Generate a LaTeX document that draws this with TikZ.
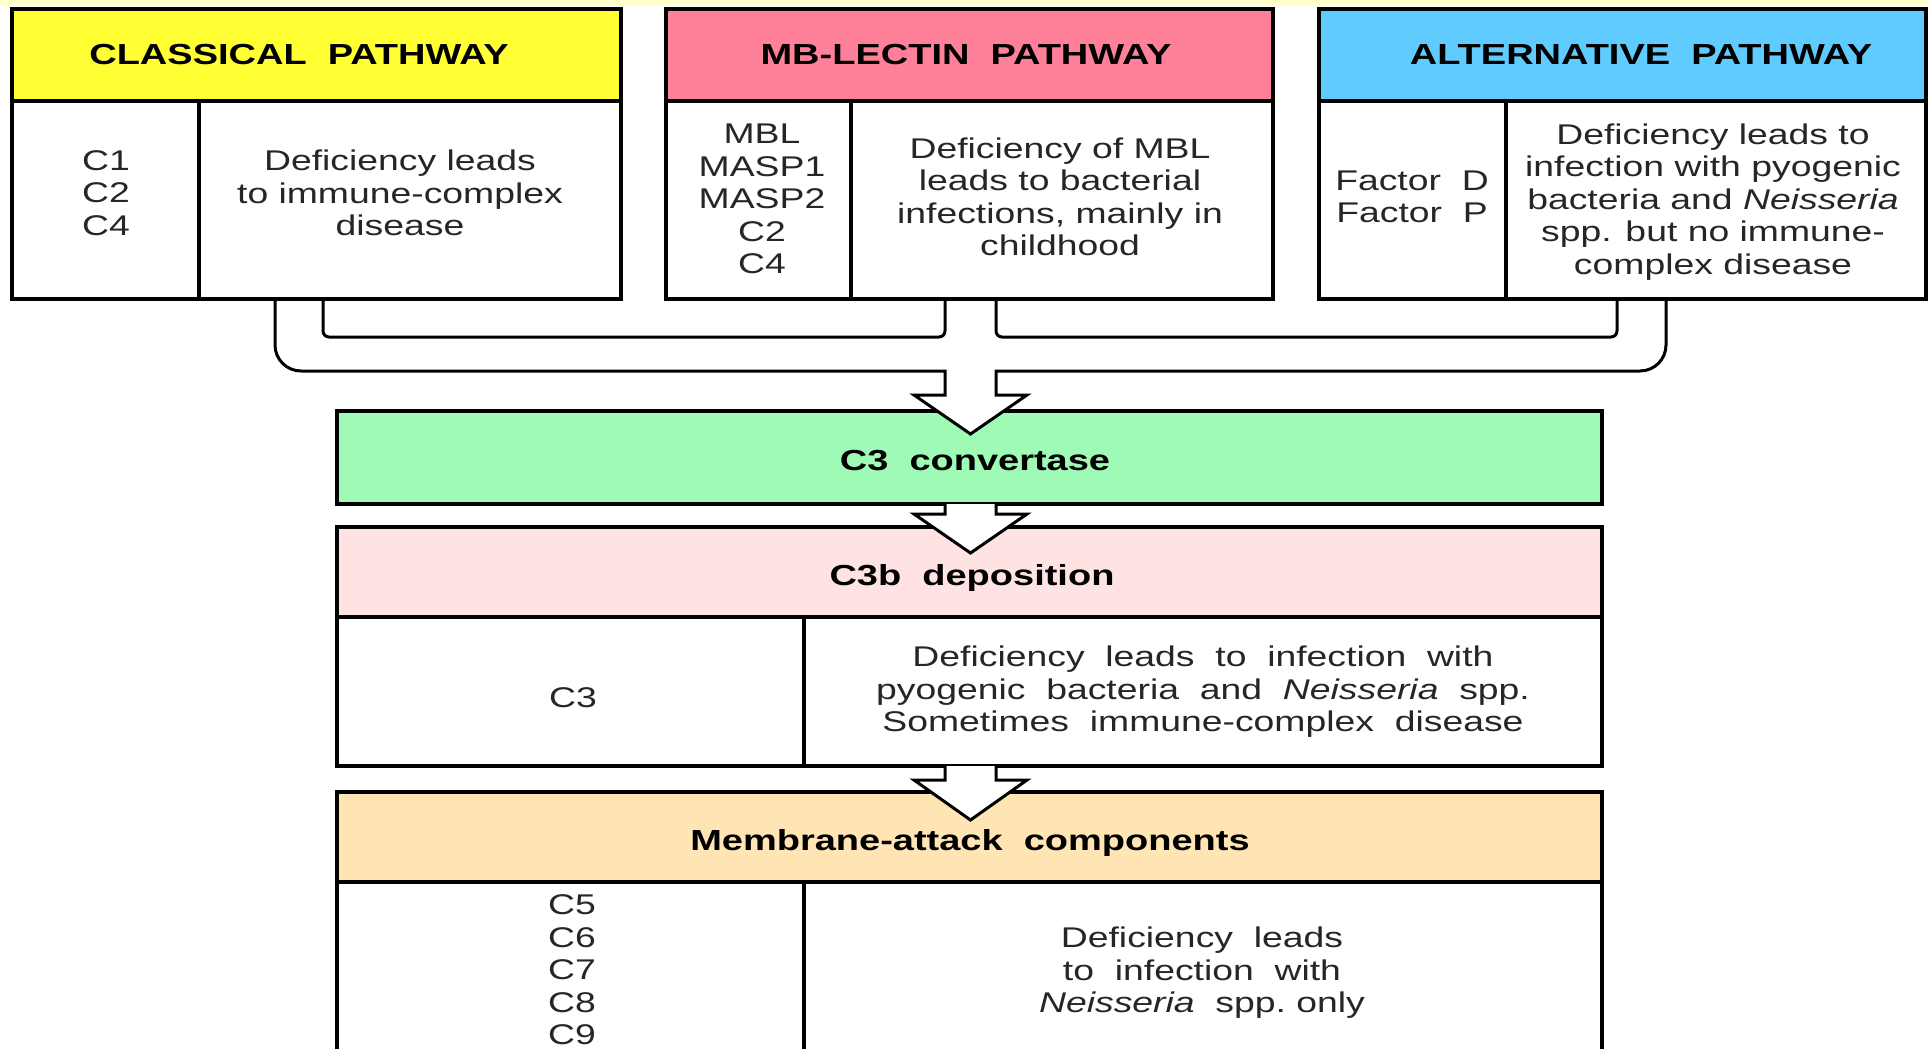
\documentclass[tikz,border=0pt]{standalone}
\usepackage{fontspec}
\setmainfont{Liberation Sans}[FakeStretch=1.31]
\definecolor{cYellow}{HTML}{FFFF33}
\definecolor{cPink}{HTML}{FF8099}
\definecolor{cBlue}{HTML}{5FCBFF}
\definecolor{cGreen}{HTML}{9EFAB4}
\definecolor{cRose}{HTML}{FFE3E3}
\definecolor{cPeach}{HTML}{FFE4B4}
\definecolor{cStrip}{HTML}{FFFFCC}
\definecolor{ink}{HTML}{262626}
\begin{document}
\begin{tikzpicture}[x=1pt,y=-1pt,
  boxline/.style={draw=black,line width=3.5pt},
  wall/.style={draw=black,line width=3pt,line join=miter},
  body/.style={font=\fontsize{28.5}{32.5}\selectfont,text=ink,align=center,inner sep=0pt},
  head/.style={font=\fontsize{29}{33}\selectfont\bfseries,text=black,inner sep=0pt}]
\clip (0,0) rectangle (1928,1049);
\fill[white] (0,0) rectangle (1928,1049);
\fill[cStrip] (0,0) rectangle (1928,6);

% ---- three pathway boxes ----
\fill[cYellow] (12,9) rectangle (621,101);
\draw[boxline] (12,9) rectangle (621,299);
\draw[boxline] (12,101) -- (621,101);
\draw[boxline] (199,101) -- (199,299);

\fill[cPink] (666,9) rectangle (1273,101);
\draw[boxline] (666,9) rectangle (1273,299);
\draw[boxline] (666,101) -- (1273,101);
\draw[boxline] (851,101) -- (851,299);

\fill[cBlue] (1319,9) rectangle (1926,101);
\draw[boxline] (1319,9) rectangle (1926,299);
\draw[boxline] (1319,101) -- (1926,101);
\draw[boxline] (1506,101) -- (1506,299);

\node[head] (clsH) at (299,55) {CLASSICAL\ \ PATHWAY};
\node[body] (clsL) at (106,193) {C1\\C2\\C4};
\node[body] (clsD) at (400,193) {Deficiency leads\\to immune-complex\\disease};

\node[head] (mblH) at (966,55) {MB-LECTIN\ \ PATHWAY};
\node[body] (mblL) at (762,199) {MBL\\MASP1\\MASP2\\C2\\C4};
\node[body] (mblD) at (1060,197) {Deficiency of MBL\\leads to bacterial\\infections, mainly in\\childhood};

\node[head] (altH) at (1641,55) {ALTERNATIVE\ \ PATHWAY};
\node[body] (altL) at (1412,197) {Factor\ \ D\\Factor\ \ P};
\node[body] (altD) at (1713,202) {Deficiency leads to\\infection with pyogenic\\bacteria and \textit{Neisseria}\\spp. but no immune-\\complex disease};

% ---- C3 convertase ----
\fill[cGreen] (337,411) rectangle (1602,504);
\draw[boxline] (337,411) rectangle (1602,504);
\node[head] (conv) at (975,461) {C3\ \ convertase};

% ---- C3b deposition ----
\fill[cRose] (337,527) rectangle (1602,617);
\draw[boxline] (337,527) rectangle (1602,766);
\draw[boxline] (337,617) -- (1602,617);
\draw[boxline] (804,617) -- (804,766);
\node[head] (dep) at (972,578) {C3b\ \ deposition};
\node[body] (depL) at (573,698) {C3};
\node[body] (depD) at (1203,692) {Deficiency\ \ leads\ \ to\ \ infection\ \ with\\pyogenic\ \ bacteria\ \ and\ \ \textit{Neisseria}\ \ spp.\\Sometimes\ \ immune-complex\ \ disease};

% ---- membrane-attack components ----
\fill[cPeach] (337,792) rectangle (1602,882);
\draw[boxline] (337,1080) -- (337,792) -- (1602,792) -- (1602,1080);
\draw[boxline] (337,882) -- (1602,882);
\draw[boxline] (804,882) -- (804,1080);
\node[head] (mac) at (970,843) {Membrane-attack\ \ components};
\node[body] (macL) at (572,970) {C5\\C6\\C7\\C8\\C9};
\node[body] (macD) at (1202,973) {Deficiency\ \ leads\\to\ \ infection\ \ with\\\textit{Neisseria}\ \ spp.\ only};

% ---- joining pipe from the three pathways ----
\draw[wall,rounded corners=6] (323,299) -- (323,337) -- (945,337) -- (945,299);
\draw[wall,rounded corners=6] (996,299) -- (996,337) -- (1617,337) -- (1617,299);
\draw[wall,rounded corners=26] (275,299) -- (275,371) -- (500,371);
\draw[wall,rounded corners=26] (1400,371) -- (1666,371) -- (1666,299);
\filldraw[wall,fill=white] (500,371) -- (945,371) -- (945,395) -- (914,395) -- (970.5,434)
  -- (1027,395) -- (996,395) -- (996,371) -- (1400,371);

% ---- arrows between the stages ----
\filldraw[wall,fill=white] (945,504) -- (945,514) -- (914,514) -- (970.5,553)
  -- (1027,514) -- (996,514) -- (996,504);
\filldraw[wall,fill=white] (945,766) -- (945,780) -- (914,780) -- (970.5,820)
  -- (1027,780) -- (996,780) -- (996,766);
\end{tikzpicture}
\end{document}
